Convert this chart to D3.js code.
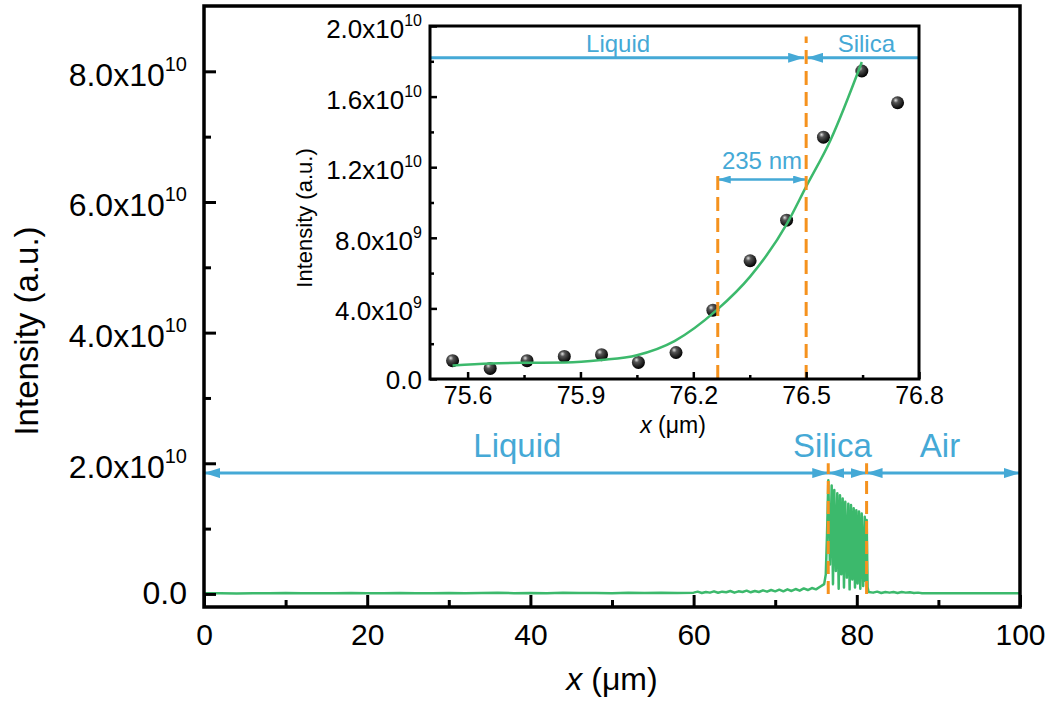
<!DOCTYPE html>
<html><head><meta charset="utf-8">
<script src="https://cdn.jsdelivr.net/npm/d3@7"></script>
<style>body{margin:0;background:#fff;} svg{display:block;font-family:"Liberation Sans",Arial,sans-serif;}</style>
</head><body><svg id="c" width="1057" height="704"></svg>
<script>
// ---------- DATA ----------
// Main profile: x (µm) and intensity (units of 1e10 a.u.)
const profileX = [0,2,4,6,8,10,12,14,16,18,20,22,24,26,28,30,32,34,36,38,40,42,44,46,48,50,52,54,56,58,
  60,60.5,61,61.5,62,62.5,63,63.5,64,64.5,65,65.5,66,66.5,67,67.5,68,68.5,69,69.5,70,70.5,71,71.5,72,72.5,73,73.5,74,74.5,75,75.5,76,
  76.2,76.35,76.51,76.71,76.92,77.08,77.24,77.43,77.61,77.78,77.94,78.1,78.27,78.43,78.59,78.78,78.96,79.12,79.29,79.45,79.62,79.78,79.94,80.1,80.27,80.43,80.6,80.78,80.97,81.08,81.21,81.32,81.45,
  82,82.5,83,83.5,84,84.5,85,85.5,86,86.5,87,87.5,88,90,92,94,96,98,100];
const profileY = [0.010,0.012,0.008,0.011,0.010,0.013,0.009,0.012,0.010,0.014,0.011,0.009,0.013,0.010,0.012,0.015,0.011,0.013,0.020,0.012,0.015,0.011,0.018,0.013,0.016,0.012,0.017,0.014,0.019,0.015,
  0.020,0.035,0.015,0.030,0.020,0.040,0.018,0.035,0.025,0.045,0.020,0.040,0.030,0.050,0.025,0.045,0.030,0.055,0.035,0.060,0.040,0.065,0.040,0.070,0.045,0.075,0.050,0.085,0.060,0.090,0.070,0.110,0.150,
  0.30,0.90,1.74,0.45,1.66,0.15,1.59,0.35,1.54,0.08,1.51,0.30,1.46,0.10,1.41,0.25,1.38,0.07,1.36,0.22,1.31,0.10,1.28,0.16,1.26,0.08,1.23,0.12,1.18,0.20,1.13,0.10,0.03,
  0.020,0.035,0.015,0.030,0.020,0.030,0.015,0.030,0.020,0.025,0.015,0.020,0.010,0.010,0.010,0.010,0.010,0.010,0.010];

// Inset measured points: x (µm), intensity (units of 1e9)
const insetX = [75.560,75.660,75.758,75.857,75.956,76.054,76.154,76.252,76.351,76.448,76.546,76.648,76.743];
const insetY = [1.04,0.60,1.04,1.28,1.38,0.94,1.50,3.90,6.70,9.00,13.70,17.45,15.65];
// Inset fitted curve
const fitX = [75.56,75.66,75.76,75.86,75.955,76.05,76.15,76.262,76.351,76.449,76.5,76.564,76.648];
const fitY = [0.77,0.88,0.92,0.94,1.08,1.35,2.15,3.90,5.80,8.80,10.90,13.50,17.96];

// Axes ticks / labels
const mainXTicks = [0,20,40,60,80,100];
const mainXMinor = [10,30,50,70,90];
const mainYTicks = [0,2,4,6,8];
const mainYMinor = [1,3,5,7];
const mainYTickBase = ["0.0","2.0x10","4.0x10","6.0x10","8.0x10"];
const mainYTickExp  = ["","10","10","10","10"];

const insetXTicks = [75.6,75.9,76.2,76.5,76.8];
const insetXMinor = [75.75,76.05,76.35,76.65];
const insetYTicks = [0,4,8,12,16,20];
const insetYMinor = [2,6,10,14,18];
const insetYTickBase = ["0.0","4.0x10","8.0x10","1.2x10","1.6x10","2.0x10"];
const insetYTickExp  = ["","9","9","10","10","10"];

// Regions / annotations
const mainBounds = [0,76.5,81.2,100];
const mainRegionNames = ["Liquid","Silica","Air"];
const mainRegionLabelX = [38.4,77.0,90.2];
const mainArrowY = 1.85, mainDashTop = 2.0;
const insetInterface = 76.5, insetLeftEdge = 76.265;
const insetArrowY = 18.2;
const insetRegionNames = ["Liquid","Silica"];
const insetRegionLabelX = [76.0,76.66];
const widthLabel = "235 nm", widthArrowY = 11.3;

// ---------- DRAW ----------
const svg = d3.select("#c");
const green="#3cb96c", blue="#45a9d6", orange="#f5921e";
const FF = '"Liberation Sans",Arial,sans-serif';

const defs = svg.append("defs");
function marker(id, len, half){
  defs.append("marker").attr("id",id).attr("viewBox",`0 0 ${len} ${half*2}`)
    .attr("refX",len).attr("refY",half).attr("markerWidth",len).attr("markerHeight",half*2)
    .attr("markerUnits","userSpaceOnUse").attr("orient","auto-start-reverse")
    .append("path").attr("d",`M0,0L${len},${half}L0,${half*2}Z`).attr("fill",blue);
}
marker("arM",16,5); marker("arI",16,5); marker("arS",13,4);
const grad = defs.append("radialGradient").attr("id","ball").attr("cx","40%").attr("cy","35%").attr("r","65%").attr("fx","35%").attr("fy","30%");
grad.append("stop").attr("offset","0%").attr("stop-color","#e0e0e0");
grad.append("stop").attr("offset","30%").attr("stop-color","#555");
grad.append("stop").attr("offset","100%").attr("stop-color","#000");

// Main scales
const xM = d3.scaleLinear().domain([0,100]).range([204,1020]);
const yM = d3.scaleLinear().domain([-0.2,9.0]).range([607,6]);

// main line
svg.append("path").datum(d3.zip(profileX,profileY))
  .attr("d", d3.line().x(d=>xM(d[0])).y(d=>yM(d[1])))
  .attr("fill","none").attr("stroke",green).attr("stroke-width",2.5).attr("stroke-linejoin","round");

// main arrows
for(let i=0;i<mainBounds.length-1;i++){
  svg.append("line").attr("x1",xM(mainBounds[i])).attr("x2",xM(mainBounds[i+1]))
    .attr("y1",yM(mainArrowY)).attr("y2",yM(mainArrowY))
    .attr("stroke",blue).attr("stroke-width",3)
    .attr("marker-start","url(#arM)").attr("marker-end","url(#arM)");
  svg.append("text").attr("x",xM(mainRegionLabelX[i])).attr("y",yM(mainArrowY)-16)
    .attr("text-anchor","middle").attr("font-size",33).attr("font-family",FF).attr("fill",blue)
    .text(mainRegionNames[i]);
}
// main dashed interfaces
[mainBounds[1],mainBounds[2]].forEach(v=>{
  svg.append("line").attr("x1",xM(v)).attr("x2",xM(v)).attr("y1",yM(0)).attr("y2",yM(mainDashTop))
    .attr("stroke",orange).attr("stroke-width",3).attr("stroke-dasharray","13,7");
});

// main frame
svg.append("rect").attr("x",204).attr("y",6).attr("width",1020-204).attr("height",607-6)
  .attr("fill","none").attr("stroke","#000").attr("stroke-width",3.5);

function styleAxis(g,sw){ g.select(".domain").remove(); g.selectAll("line").attr("stroke","#000").attr("stroke-width",sw); }

// main x axis
const gxM = svg.append("g").attr("transform","translate(0,607)")
  .call(d3.axisBottom(xM).tickValues(mainXTicks).tickSize(-12).tickFormat(d3.format("d")));
styleAxis(gxM,3);
gxM.selectAll("text").attr("y",38).attr("dy",null).attr("font-size",30).attr("font-family",FF).attr("fill","#000");
const gxMm = svg.append("g").attr("transform","translate(0,607)")
  .call(d3.axisBottom(xM).tickValues(mainXMinor).tickSize(-7).tickFormat(""));
styleAxis(gxMm,3);

// main y axis
const gyM = svg.append("g").attr("transform","translate(204,0)")
  .call(d3.axisLeft(yM).tickValues(mainYTicks).tickSize(-12).tickFormat(""));
styleAxis(gyM,3);
gyM.selectAll("text").each(function(d,i){
  const t=d3.select(this).text(null).attr("x",-17).attr("dy",null)
    .attr("y", mainYTickExp[i]?14:10).attr("font-size",32).attr("font-family",FF).attr("fill","#000");
  t.append("tspan").text(mainYTickBase[i]);
  if(mainYTickExp[i]) t.append("tspan").attr("dy",-15).attr("font-size",20).text(mainYTickExp[i]);
});
const gyMm = svg.append("g").attr("transform","translate(204,0)")
  .call(d3.axisLeft(yM).tickValues(mainYMinor).tickSize(-7).tickFormat(""));
styleAxis(gyMm,3);

// main titles
const xt = svg.append("text").attr("x",612).attr("y",690).attr("text-anchor","middle")
  .attr("font-size",32).attr("font-family",FF);
xt.append("tspan").attr("font-style","italic").text("x");
xt.append("tspan").text(" (μm)");
svg.append("text").attr("transform","translate(38,331) rotate(-90)").attr("text-anchor","middle")
  .attr("font-size",33).attr("font-family",FF).text("Intensity (a.u.)");

// ---------- INSET ----------
const xI = d3.scaleLinear().domain([75.5,76.8]).range([430,919]);
const yI = d3.scaleLinear().domain([0,20]).range([379,26]);
svg.append("rect").attr("x",430).attr("y",26).attr("width",919-430).attr("height",379-26)
  .attr("fill","#fff");

// points
svg.append("g").selectAll("circle").data(d3.zip(insetX,insetY)).join("circle")
  .attr("cx",d=>xI(d[0])).attr("cy",d=>yI(d[1])).attr("r",6.5).attr("fill","url(#ball)");
// fit
svg.append("path").datum(d3.zip(fitX,fitY))
  .attr("d", d3.line().curve(d3.curveMonotoneX).x(d=>xI(d[0])).y(d=>yI(d[1])))
  .attr("fill","none").attr("stroke",green).attr("stroke-width",2.5);

// inset arrows
svg.append("line").attr("x1",xI(75.5)).attr("x2",xI(insetInterface)-2).attr("y1",yI(insetArrowY)).attr("y2",yI(insetArrowY))
  .attr("stroke",blue).attr("stroke-width",3).attr("marker-end","url(#arI)");
svg.append("line").attr("x1",xI(76.8)).attr("x2",xI(insetInterface)+1).attr("y1",yI(insetArrowY)).attr("y2",yI(insetArrowY))
  .attr("stroke",blue).attr("stroke-width",3).attr("marker-end","url(#arI)");
insetRegionNames.forEach((n,i)=>{
  svg.append("text").attr("x",xI(insetRegionLabelX[i])).attr("y",yI(insetArrowY)-6)
    .attr("text-anchor","middle").attr("font-size",24).attr("font-family",FF).attr("fill",blue).text(n);
});
// width arrow
svg.append("line").attr("x1",xI(insetLeftEdge)).attr("x2",xI(insetInterface)).attr("y1",yI(widthArrowY)).attr("y2",yI(widthArrowY))
  .attr("stroke",blue).attr("stroke-width",2.5).attr("marker-start","url(#arS)").attr("marker-end","url(#arS)");
svg.append("text").attr("x",xI((insetLeftEdge+insetInterface)/2)).attr("y",yI(widthArrowY)-11)
  .attr("text-anchor","middle").attr("font-size",24).attr("font-family",FF).attr("fill",blue).text(widthLabel);
// inset dashed
[[insetLeftEdge,11.7],[insetInterface,19.4]].forEach(d=>{
  svg.append("line").attr("x1",xI(d[0])).attr("x2",xI(d[0])).attr("y1",yI(0)).attr("y2",yI(d[1]))
    .attr("stroke",orange).attr("stroke-width",3).attr("stroke-dasharray","14,7");
});

// inset frame
svg.append("rect").attr("x",430).attr("y",26).attr("width",919-430).attr("height",379-26)
  .attr("fill","none").attr("stroke","#000").attr("stroke-width",3);

// inset axes
const gxI = svg.append("g").attr("transform","translate(0,379)")
  .call(d3.axisBottom(xI).tickValues(insetXTicks).tickSize(-7).tickFormat(d3.format(".1f")));
styleAxis(gxI,2.5);
gxI.selectAll("text").attr("y",25).attr("dy",null).attr("font-size",25).attr("font-family",FF).attr("fill","#000");
const gxIm = svg.append("g").attr("transform","translate(0,379)")
  .call(d3.axisBottom(xI).tickValues(insetXMinor).tickSize(-4).tickFormat(""));
styleAxis(gxIm,2.5);
const gyI = svg.append("g").attr("transform","translate(430,0)")
  .call(d3.axisLeft(yI).tickValues(insetYTicks).tickSize(-7).tickFormat(""));
styleAxis(gyI,2.5);
gyI.selectAll("text").each(function(d,i){
  const t=d3.select(this).text(null).attr("x",-8).attr("dy",null)
    .attr("y", insetYTickExp[i]?11.5:9).attr("font-size",26).attr("font-family",FF).attr("fill","#000");
  t.append("tspan").text(insetYTickBase[i]);
  if(insetYTickExp[i]) t.append("tspan").attr("dy",-12).attr("font-size",16).text(insetYTickExp[i]);
});
const gyIm = svg.append("g").attr("transform","translate(430,0)")
  .call(d3.axisLeft(yI).tickValues(insetYMinor).tickSize(-4).tickFormat(""));
styleAxis(gyIm,2.5);
const xti = svg.append("text").attr("x",673).attr("y",433).attr("text-anchor","middle")
  .attr("font-size",23).attr("font-family",FF);
xti.append("tspan").attr("font-style","italic").text("x");
xti.append("tspan").text(" (μm)");
svg.append("text").attr("transform","translate(312,218) rotate(-90)").attr("text-anchor","middle")
  .attr("font-size",22).attr("font-family",FF).text("Intensity (a.u.)");
</script></body></html>
